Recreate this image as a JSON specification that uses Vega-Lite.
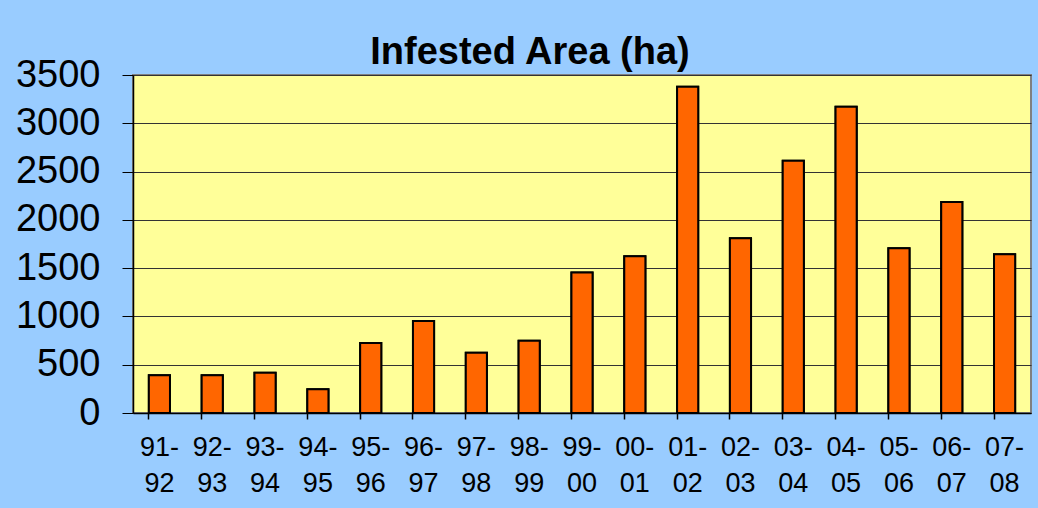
{
  "$schema": "https://vega.github.io/schema/vega-lite/v6.json",
  "width": 898,
  "height": 338,
  "autosize": {"type": "none"},
  "padding": {"left": 133, "top": 75, "right": 7, "bottom": 95},
  "background": "#99CCFF",
  "title": {
    "text": "Infested Area (ha)",
    "font": "Liberation Sans",
    "fontSize": 38,
    "fontWeight": "bold",
    "color": "#000000",
    "anchor": "middle",
    "frame": "group",
    "baseline": "alphabetic",
    "offset": 12,
    "dy": 58,
    "dx": -52
  },
  "data": {
    "values": [
      {"season": "91-92", "area": 392},
      {"season": "92-93", "area": 392},
      {"season": "93-94", "area": 416},
      {"season": "94-95", "area": 246},
      {"season": "95-96", "area": 726},
      {"season": "96-97", "area": 952},
      {"season": "97-98", "area": 625},
      {"season": "98-99", "area": 747},
      {"season": "99-00", "area": 1455},
      {"season": "00-01", "area": 1622},
      {"season": "01-02", "area": 3378},
      {"season": "02-03", "area": 1810},
      {"season": "03-04", "area": 2613},
      {"season": "04-05", "area": 3172},
      {"season": "05-06", "area": 1705},
      {"season": "06-07", "area": 2185},
      {"season": "07-08", "area": 1645}
    ]
  },
  "layer": [
    {
      "mark": {"type": "bar", "fill": "#FF6600", "stroke": "#000000", "strokeWidth": 2},
      "encoding": {
        "x": {
          "field": "season",
          "type": "nominal",
          "sort": null,
          "scale": {"paddingInner": 0.6, "paddingOuter": 0.3},
          "axis": {
            "title": null,
            "orient": "bottom",
            "labelAngle": 0,
            "labelFont": "Liberation Sans",
            "labelFontSize": 27,
            "labelColor": "#000000",
            "labelLineHeight": 36,
            "labelPadding": 21,
            "labelExpr": "[slice(datum.value, 0, 3), slice(datum.value, 3)]",
            "ticks": false,
            "domainColor": "#000000",
            "domainWidth": 1.5
          }
        },
        "y": {
          "field": "area",
          "type": "quantitative",
          "scale": {"domain": [0, 3500], "nice": false},
          "axis": {
            "title": null,
            "values": [0, 500, 1000, 1500, 2000, 2500, 3000, 3500],
            "format": "d",
            "labelFont": "Liberation Sans",
            "labelFontSize": 38,
            "labelColor": "#000000",
            "labelPadding": 22,
            "tickSize": 11,
            "tickColor": "#000000",
            "domainColor": "#000000",
            "domainWidth": 1.5,
            "grid": true,
            "gridColor": "#333333",
            "gridWidth": 1.2
          }
        }
      }
    },
    {
      "mark": {"type": "bar", "fill": "#FF6600", "stroke": "#000000", "strokeWidth": 2},
      "encoding": {
        "x": {
          "field": "season",
          "type": "nominal",
          "sort": null,
          "axis": {
            "title": null,
            "orient": "bottom",
            "bandPosition": 0,
            "labels": false,
            "domain": false,
            "grid": false,
            "ticks": true,
            "tickSize": 6,
            "tickColor": "#000000",
            "tickWidth": 1.5
          }
        },
        "y": {"field": "area", "type": "quantitative"}
      }
    }
  ],
  "resolve": {"axis": {"x": "independent"}},
  "config": {
    "view": {"fill": "#FFFF99", "stroke": "#808080", "strokeWidth": 2}
  }
}
